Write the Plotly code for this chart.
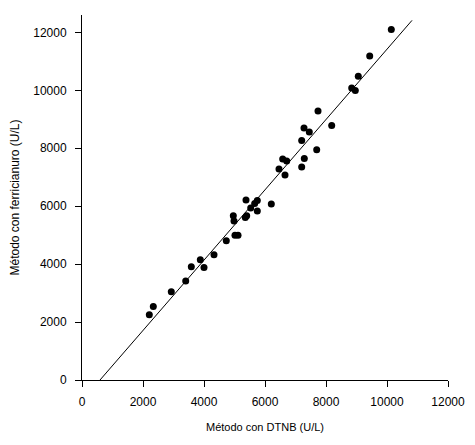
import plotly.graph_objects as go

# método DTNB (x) vs método ferricianuro (y), U/L
dtnb = [2207, 2338, 2928, 3400, 3584, 3879, 4000, 4328, 4731, 5016,
        5115, 4961, 4984, 5354, 5400, 5377, 5531, 5662, 5748, 5748,
        6207, 6459, 6656, 6580, 6711, 7203, 7289, 7203, 7695, 7452,
        7279, 7738, 8187, 8843, 8961, 9059, 9433, 10141]
ferri = [2252, 2541, 3045, 3414, 3907, 4148, 3886, 4321, 4810, 5000,
         5000, 5666, 5493, 5610, 5666, 6217, 5941, 6093, 6197, 5838,
         6079, 7286, 7079, 7631, 7562, 7355, 7645, 8266, 7948, 8562,
         8700, 9286, 8783, 10079, 9990, 10483, 11183, 12103]

# recta de regresión (extremos)
line_x = [590, 10820]
line_y = [0, 12414]

tick_vals = [0, 2000, 4000, 6000, 8000, 10000, 12000]
tick_text = [str(v) for v in tick_vals]

fig = go.Figure()
fig.add_trace(go.Scatter(x=line_x, y=line_y, mode='lines',
                         line=dict(color='black', width=1), hoverinfo='skip'))
fig.add_trace(go.Scatter(x=dtnb, y=ferri, mode='markers',
                         marker=dict(color='black', size=7)))

axis_common = dict(
    showgrid=False, zeroline=False, showline=True, linecolor='black', linewidth=1,
    ticks='outside', ticklen=6, tickcolor='black',
    tickvals=tick_vals, ticktext=tick_text, automargin=False,
    tickfont=dict(family='Liberation Sans', size=12, color='black'),
)
fig.update_layout(
    width=475, height=445,
    paper_bgcolor='white', plot_bgcolor='white',
    showlegend=False,
    # page body has an 8px margin, so shift the plot back by that much
    margin=dict(l=74, r=35, t=7, b=73),
    xaxis=dict(range=[0, 12000], ticklabelstandoff=5,
               title=dict(text='Método con DTNB (U/L)',
                          font=dict(family='Liberation Sans', size=11, color='black'), standoff=14),
               **axis_common),
    yaxis=dict(range=[0, 12600], ticklabelstandoff=6,
               title=dict(text='Método con ferricianuro (U/L)',
                          font=dict(family='Liberation Sans', size=12, color='black'), standoff=12),
               **axis_common),
)
fig.write_html("out.html")
